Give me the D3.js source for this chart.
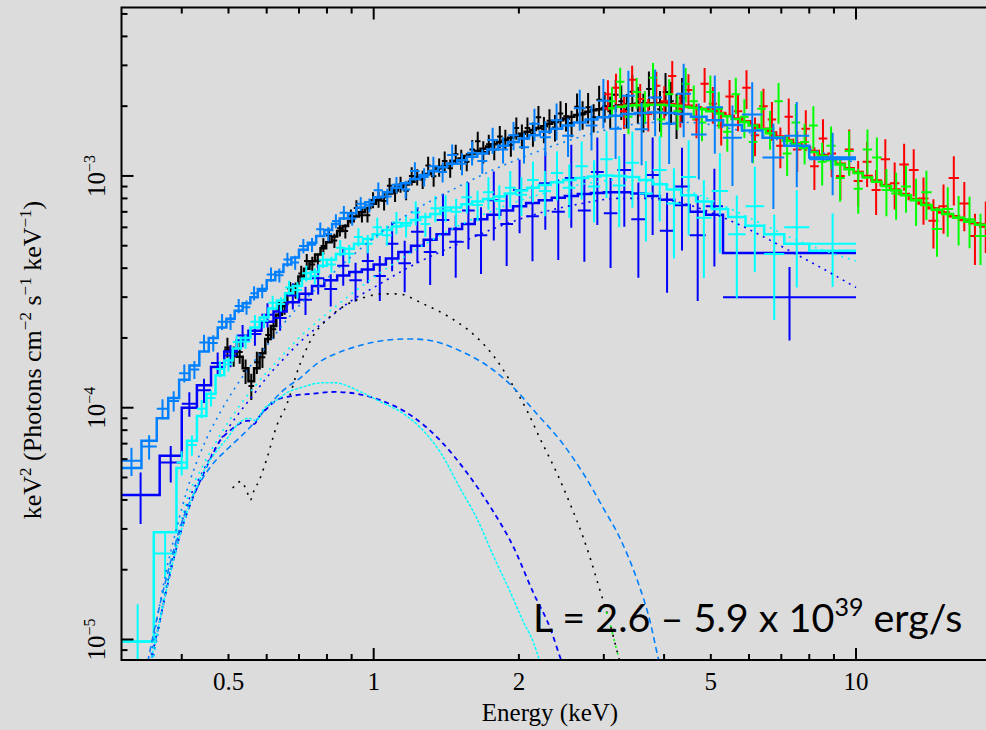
<!DOCTYPE html>
<html>
<head>
<meta charset="utf-8">
<script src="https://cdn.jsdelivr.net/npm/d3@7"></script>
<style>
html, body { margin: 0; padding: 0; background: #dcdcdc; }
svg { display: block; }
</style>
</head>
<body>
<svg id="chart" width="986" height="730"></svg>
<script>
// Unfolded spectra, E^2 f(E); every value array is in units of 1e-4 keV^2 ph cm^-2 s^-1 keV^-1.
// For each instrument: bin edges (keV), measured values, fractional 1-sigma errors, model per bin.

const blackEdges = [0.490,0.505,0.520,0.535,0.550,0.565,0.580,0.596,0.612,0.628,
  0.645,0.662,0.680,0.698,0.717,0.736,0.756,0.776,0.797,0.818,
  0.840,0.862,0.885,0.909,0.933,0.958,0.984,1.010,1.037,1.065,
  1.093,1.122,1.152,1.183,1.215,1.247,1.280,1.314,1.349,1.385,
  1.422,1.460,1.499,1.539,1.580,1.622,1.665,1.710,1.755,1.802,
  1.850,1.900,1.950,2.002,2.056,2.111,2.167,2.225,2.284,2.345,
  2.408,2.472,2.538,2.606,2.675,2.747,2.820,2.895,2.973,3.052,
  3.134,3.218,3.304,3.392,3.483,3.576,3.672,3.770,3.871,3.975,
  4.081,4.190,4.302,4.417];
const blackVals = [1.82,1.67,1.74,1.44,1.24,1.57,1.65,2.06,2.18,2.65,
  2.74,3.26,3.21,3.79,4.30,4.15,4.31,4.98,5.54,5.26,
  5.95,5.78,6.70,7.28,6.77,6.77,7.88,7.93,7.80,9.07,
  8.49,9.19,8.63,10.0,9.89,9.66,11.1,9.98,10.9,11.6,
  10.8,12.4,11.8,11.5,13.0,14.1,12.7,13.7,13.0,14.8,
  14.4,13.6,16.1,14.9,16.1,15.2,17.9,15.9,17.3,16.2,
  18.6,18.1,16.9,19.9,18.4,19.8,17.9,21.3,20.0,19.0,
  22.4,21.0,19.3,23.1,20.5,19.0,23.7,21.8,19.4,23.0,
  21.0,18.5,21.7];
const blackErr = [0.10,0.10,0.11,0.12,0.13,0.11,0.10,
  0.08,0.09,0.08,0.08,0.07,0.08,0.08,0.07,0.08,0.07,0.08,0.07,0.07,0.08,0.07,0.07,0.08,0.07,0.07,0.08,
  0.08,0.09,0.08,0.09,0.08,0.09,0.09,0.08,0.09,0.09,0.10,0.09,0.10,0.09,0.10,0.10,0.09,0.10,0.10,0.11,0.10,0.10,0.11,0.10,0.11,0.11,
  0.12,0.11,0.12,0.12,0.13,0.12,0.13,0.13,0.14,0.13,0.14,0.14,0.15,0.14,0.15,0.15,0.16,
  0.16,0.17,0.17,0.18,0.18,0.19,0.19,0.20,0.20,0.21,0.21,0.22,0.22];
const blackModel = [1.78,1.74,1.66,1.48,1.30,1.48,1.72,1.98,2.25,2.52,
  2.80,3.08,3.38,3.68,3.98,4.28,4.58,4.88,5.18,5.48,
  5.78,6.08,6.38,6.68,6.98,7.28,7.58,7.85,8.12,8.40,
  8.66,8.92,9.18,9.44,9.70,9.96,10.2,10.5,10.8,11.0,
  11.3,11.6,11.9,12.2,12.5,12.8,13.1,13.4,13.7,14.0,
  14.3,14.6,14.9,15.2,15.5,15.8,16.1,16.4,16.8,17.1,
  17.4,17.7,18.0,18.3,18.6,18.9,19.2,19.4,19.6,19.8,
  20.0,20.2,20.3,20.4,20.5,20.6,20.6,20.6,20.6,20.5,
  20.4,20.3,20.1];

const redEdges = [3.00,3.12,3.24,3.37,3.50,3.64,3.78,3.93,4.08,4.24,
  4.41,4.58,4.76,4.95,5.15,5.36,5.58,5.81,6.05,6.30,
  6.56,6.83,7.11,7.40,7.71,8.03,8.37,8.72,9.09,9.48,
  9.89,10.32,10.77,11.25,11.76,12.30,12.87,13.48,14.13,14.82,
  15.56,16.35,17.20,18.10,19.07,20.10];
const redVals = [22.5,24.0,19.0,26.0,21.5,18.5,24.5,21.0,27.0,19.5,
  23.5,17.5,25.0,20.5,16.5,22.0,19.0,24.0,15.0,20.0,
  17.5,13.5,18.0,13.0,16.0,11.0,14.5,12.5,10.0,13.0,
  9.5,11.5,8.7,11.8,9.3,11.2,10.6,8.0,6.4,7.4,
  9.8,7.6,5.5,6.2,5.0];
const redErr = [0.15,0.15,0.16,0.15,0.16,0.16,0.15,0.16,0.16,0.17,
  0.17,0.17,0.17,0.18,0.18,0.18,0.18,0.19,0.19,0.19,
  0.19,0.20,0.20,0.20,0.20,0.21,0.21,0.21,0.21,0.22,
  0.22,0.22,0.22,0.22,0.23,0.23,0.23,0.23,0.24,0.24,
  0.24,0.24,0.25,0.25,0.25];
const redModel = [19.6,19.9,20.1,20.3,20.4,20.5,20.5,20.5,20.4,20.3,
  20.1,19.8,19.5,19.1,18.7,18.2,17.7,17.2,16.6,16.0,
  15.4,14.8,14.3,13.8,13.3,12.8,12.3,11.8,11.3,10.8,
  10.4,10.0,9.55,9.15,8.75,8.35,7.95,7.60,7.25,6.95,
  6.70,6.45,6.25,6.05,5.85];

const greenEdges = [3.06,3.18,3.31,3.44,3.58,3.72,3.87,4.02,4.18,4.35,
  4.52,4.70,4.89,5.09,5.30,5.52,5.75,5.99,6.24,6.50,
  6.77,7.05,7.35,7.66,7.99,8.33,8.69,9.07,9.47,9.89,
  10.33,10.80,11.30,11.83,12.40,13.00,13.65,14.35,15.10,15.90,
  16.75,17.65,18.60,19.60,20.60];
const greenVals = [21.0,25.5,18.0,23.0,20.0,26.5,17.5,22.5,19.0,25.0,
  21.0,17.0,23.0,19.5,15.5,22.5,18.0,14.0,19.5,16.0,
  21.0,12.5,17.0,14.0,16.5,11.5,13.5,9.8,12.8,8.8,
  13.0,12.0,8.7,8.4,9.0,7.9,8.5,5.9,7.2,6.6,
  6.5,5.5,6.0,4.9];
const greenErr = [0.15,0.15,0.16,0.15,0.16,0.16,0.16,0.16,0.17,0.17,
  0.17,0.17,0.18,0.18,0.18,0.18,0.19,0.19,0.19,0.19,
  0.20,0.20,0.20,0.20,0.21,0.21,0.21,0.21,0.22,0.22,
  0.22,0.22,0.23,0.23,0.23,0.23,0.24,0.24,0.24,0.24,
  0.25,0.25,0.25,0.26];
const greenModel = [19.6,19.9,20.1,20.2,20.3,20.3,20.3,20.2,20.1,19.9,
  19.7,19.4,19.0,18.6,18.1,17.6,17.1,16.5,15.9,15.3,
  14.7,14.2,13.7,13.2,12.7,12.2,11.7,11.2,10.7,10.3,
  9.85,9.45,9.05,8.65,8.25,7.85,7.50,7.15,6.85,6.60,
  6.35,6.15,5.95,5.80];

const blueEdges = [0.300,0.360,0.400,0.430,0.460,0.490,0.520,0.550,0.585,0.620,
  0.660,0.700,0.745,0.790,0.840,0.890,0.945,1.000,1.060,1.125,
  1.195,1.270,1.350,1.435,1.525,1.620,1.720,1.830,1.945,2.070,
  2.200,2.340,2.490,2.650,2.820,3.000,3.200,3.420,3.660,3.920,
  4.200,4.520,4.880,5.300,10.000];
const blueVals = [0.42,0.58,1.04,1.19,1.56,1.68,2.05,2.08,2.52,2.44,
  3.05,2.92,3.62,3.25,4.10,3.55,4.30,3.70,5.10,4.20,
  5.75,4.70,6.45,5.20,7.10,5.55,7.85,6.20,8.70,6.70,
  9.30,7.00,9.80,7.10,10.4,6.90,10.6,6.50,10.1,5.80,
  9.00,5.55,7.40,3.00];
const blueErr = [0.25,0.18,0.12,0.12,0.11,0.11,0.11,0.11,0.12,0.12,
  0.13,0.14,0.15,0.16,0.18,0.19,0.20,0.22,0.24,0.25,
  0.27,0.28,0.30,0.30,0.32,0.32,0.33,0.34,0.35,0.36,
  0.37,0.38,0.39,0.40,0.41,0.42,0.43,0.44,0.45,0.46,
  0.47,0.48,0.45,0.35];
const blueModel = [0.42,0.62,1.00,1.25,1.50,1.75,1.95,2.15,2.35,2.60,
  2.85,3.10,3.35,3.55,3.72,3.85,3.95,4.15,4.40,4.70,
  5.00,5.30,5.60,5.90,6.20,6.50,6.80,7.10,7.40,7.65,
  7.85,8.05,8.20,8.35,8.45,8.50,8.50,8.40,8.20,7.90,
  7.50,7.00,6.80,4.65];

const cyanEdges = [0.300,0.350,0.390,0.410,0.430,0.450,0.470,0.490,0.510,0.530,
  0.555,0.580,0.605,0.630,0.655,0.680,0.710,0.740,0.770,0.800,
  0.835,0.870,0.910,0.950,0.995,1.040,1.090,1.140,1.195,1.250,
  1.310,1.375,1.445,1.520,1.600,1.685,1.775,1.870,1.970,2.080,
  2.200,2.330,2.470,2.620,2.780,2.950,3.130,3.330,3.550,3.790,
  4.050,4.340,4.660,5.020,5.430,5.900,6.450,7.100,8.000,10.000];
const cyanVals = [0.098,0.235,0.58,0.69,0.99,1.10,1.47,1.54,1.92,1.93,
  2.35,2.37,2.84,2.80,3.30,3.22,3.80,3.70,4.35,4.15,
  4.90,4.62,5.45,5.10,6.00,5.55,6.30,6.10,6.95,6.20,
  7.25,7.30,7.00,8.10,7.50,8.50,7.80,8.90,8.30,9.60,
  8.60,10.3,8.90,11.0,9.00,11.8,9.10,11.4,8.40,10.6,
  7.60,9.90,6.60,8.60,5.60,7.40,4.60,6.00,5.10];
const cyanErr = [0.45,0.22,0.12,0.10,0.09,0.08,0.08,0.07,0.07,0.07,
  0.07,0.07,0.07,0.07,0.07,0.08,0.08,0.08,0.08,0.08,
  0.08,0.09,0.09,0.09,0.10,0.10,0.11,0.11,0.12,0.12,
  0.13,0.13,0.14,0.15,0.15,0.16,0.17,0.18,0.19,0.20,
  0.22,0.24,0.26,0.28,0.30,0.32,0.34,0.36,0.38,0.40,
  0.42,0.44,0.45,0.46,0.47,0.48,0.48,0.45,0.35];
const cyanModel = [0.098,0.29,0.55,0.72,0.92,1.15,1.38,1.60,1.80,2.00,
  2.22,2.45,2.68,2.90,3.12,3.35,3.60,3.85,4.10,4.35,
  4.60,4.85,5.10,5.35,5.60,5.85,6.05,6.25,6.45,6.65,
  6.85,7.10,7.30,7.55,7.75,7.95,8.15,8.40,8.65,8.90,
  9.15,9.40,9.60,9.80,9.95,10.05,10.0,9.90,9.60,9.20,
  8.75,8.25,7.75,7.20,6.65,6.10,5.60,5.10,4.75];

const azureEdges = [0.300,0.330,0.355,0.375,0.395,0.415,0.435,0.455,0.475,0.495,
  0.515,0.535,0.555,0.575,0.600,0.625,0.650,0.675,0.700,0.730,
  0.760,0.790,0.820,0.850,0.885,0.920,0.960,1.000,1.045,1.090,
  1.140,1.190,1.245,1.300,1.360,1.420,1.490,1.560,1.640,1.720,
  1.810,1.900,2.000,2.100,2.210,2.330,2.460,2.600,2.750,2.910,
  3.080,3.270,3.480,3.710,3.960,4.240,4.550,4.900,5.300,5.800,
  6.400,7.100,8.000,10.000];
const azureVals = [0.59,0.68,0.99,1.07,1.41,1.46,1.91,1.90,2.35,2.35,
  2.75,2.71,3.12,3.19,3.76,3.73,4.36,4.23,4.99,5.05,
  5.89,5.62,6.39,6.94,6.56,7.59,7.47,8.67,8.16,9.17,
  8.74,10.5,9.90,11.0,10.4,12.3,11.3,12.6,11.6,14.3,
  13.0,15.0,13.3,16.8,14.7,17.4,14.9,19.6,16.5,21.1,
  16.0,22.2,15.9,21.8,16.8,22.6,15.1,19.8,14.6,18.4,
  12.0,14.9,11.8];
const azureErr = [0.14,0.12,0.10,0.10,0.09,0.09,0.08,0.08,0.08,0.08,0.07,0.07,0.07,
  0.07,0.07,0.07,0.07,0.07,0.07,0.07,0.07,0.07,0.07,0.07,0.07,0.07,0.07,
  0.08,0.08,0.08,0.09,0.09,0.09,0.10,0.10,0.11,0.11,0.12,0.12,0.13,0.13,0.14,
  0.15,0.16,0.17,0.18,0.19,0.20,0.22,0.24,
  0.26,0.28,0.30,0.32,0.33,0.35,0.36,0.37,0.38,0.38,0.40,0.40,0.30];
const azureModel = [0.55,0.72,0.90,1.10,1.32,1.52,1.75,2.00,2.22,2.42,
  2.62,2.82,3.00,3.25,3.55,3.85,4.15,4.45,4.80,5.15,
  5.50,5.85,6.20,6.55,6.90,7.30,7.70,8.10,8.50,8.90,
  9.30,9.70,10.1,10.5,10.9,11.3,11.7,12.1,12.5,13.0,
  13.5,14.0,14.5,15.0,15.5,16.0,16.5,17.0,17.5,17.9,
  18.2,18.5,18.7,18.8,18.7,18.5,18.0,17.4,16.6,15.7,
  14.6,13.5,12.0];

// Model components (keV, same units)
const blackSoftE = [0.51,0.53,0.545,0.555,0.565,0.58,0.60,0.63,0.66,0.70,
  0.75,0.80,0.87,0.95,1.05,1.12,1.27,1.44,1.64,1.77,
  1.92,2.08,2.21,2.40,2.56,2.72,2.81,2.94,3.08,3.21,3.30];
const blackSoftY = [0.45,0.48,0.44,0.40,0.44,0.49,0.60,0.84,1.03,1.50,
  2.05,2.40,2.75,2.98,3.10,3.10,2.80,2.45,2.00,1.68,
  1.30,0.97,0.74,0.52,0.38,0.275,0.225,0.165,0.12,0.086,0.07];
const greenSoftE = [3.00,3.08,3.15,3.21,3.30];
const greenSoftY = [0.14,0.12,0.10,0.086,0.07];
const azureSoftE = [0.34,0.36,0.38,0.40,0.43,0.46,0.50,0.53,0.565,0.60,
  0.65,0.706,0.766,0.84,0.94,1.07,1.19,1.31,1.51,1.75,
  1.95,2.18,2.44,2.72,2.99,3.25,3.52,3.74,3.89,4.0];
const azureSoftY = [0.08,0.14,0.22,0.32,0.45,0.56,0.67,0.75,0.86,1.00,
  1.19,1.35,1.56,1.72,1.86,1.96,1.98,1.95,1.76,1.48,
  1.22,0.94,0.72,0.52,0.37,0.27,0.18,0.12,0.083,0.066];
const cyanSoftE = [0.34,0.36,0.38,0.40,0.43,0.45,0.475,0.50,0.52,0.55,
  0.57,0.59,0.63,0.66,0.706,0.78,0.83,0.94,1.034,1.137,
  1.25,1.376,1.51,1.64,1.77,1.92,2.04,2.14,2.2,2.25];
const cyanSoftY = [0.07,0.12,0.20,0.30,0.46,0.56,0.66,0.75,0.84,0.90,
  0.88,0.98,1.08,1.16,1.22,1.28,1.28,1.17,1.06,0.96,
  0.82,0.64,0.45,0.33,0.23,0.16,0.12,0.098,0.083,0.072];
const blueSoftE = [0.34,0.36,0.38,0.40,0.42,0.44,0.46,0.48,0.505,
  0.53,0.55,0.565,0.58,0.60,0.63,0.67,0.75,0.83,0.94,
  1.03,1.21,1.376,1.565,1.75,1.95,2.14,2.33,2.44,2.5];
const blueSoftY = [0.07,0.12,0.20,0.30,0.40,0.50,0.61,0.72,0.80,
  0.86,0.88,0.85,0.92,0.99,1.08,1.12,1.15,1.17,1.14,
  1.08,0.91,0.72,0.52,0.37,0.25,0.16,0.11,0.083,0.073];
const hardE = [0.34,0.355,0.37,0.39,0.41,0.44,0.48,0.52,0.56,0.60,
  0.65,0.70,0.80,0.90,1.0,1.2,1.5,1.8,2.2,2.7,
  3.2,3.8,4.5,5.5,6.5,7.5,8.5,10];
const azureHardY = [0.07,0.12,0.19,0.30,0.44,0.66,0.95,1.25,1.55,1.85,
  2.3,2.75,3.6,4.5,5.4,7.0,9.0,10.8,12.8,14.8,
  16.2,17.0,17.0,16.0,14.8,13.6,12.6,11.4];
const blueHardY = [0.06,0.10,0.16,0.26,0.38,0.52,0.72,0.92,1.12,1.35,
  1.62,1.90,2.40,2.90,3.30,4.10,5.10,6.00,6.90,7.60,
  8.00,8.00,7.50,6.40,5.40,4.60,4.00,3.30];
const cyanHardY = [0.06,0.10,0.17,0.27,0.40,0.55,0.76,0.98,1.20,1.42,
  1.70,2.00,2.55,3.10,3.65,4.70,6.10,7.20,8.30,9.20,
  9.60,9.40,8.60,7.20,6.10,5.30,4.80,4.30];

const xTickLabels = ["0.5", "1", "2", "5", "10"];
const yTickExps = ["−5", "−4", "−3"];

const UNIT = 1e-4;
const COL = { black: "#000000", red: "#ff0000", green: "#00ff00", blue: "#0000ff", cyan: "#00ffff", azure: "#0080ff" };

const svg = d3.select("#chart");
const L = 121.5, R = 1001.2, T = 7.5, B = 660;
const x = d3.scaleLog().domain([0.3, 20]).range([L, R]);
const y = d3.scaleLog().domain([8.157e-6, 5.33e-3]).range([B, T]);

svg.append("rect").attr("width", 986).attr("height", 730).attr("fill", "#dcdcdc");
svg.append("defs").append("clipPath").attr("id", "plotArea")
  .append("rect").attr("x", L).attr("y", T).attr("width", R - L).attr("height", B - T);

const plot = svg.append("g").attr("clip-path", "url(#plotArea)");

function drawSet(edges, vals, errs, model, color) {
  const g = plot.append("g");
  let d = "";
  vals.forEach((v, i) => {
    const lo = edges[i], hi = edges[i + 1], c = Math.sqrt(lo * hi);
    d += `M${x(lo)},${y(v * UNIT)}H${x(hi)}`;
    d += `M${x(c)},${y(v * (1 - errs[i]) * UNIT)}V${y(v * (1 + errs[i]) * UNIT)}`;
  });
  g.append("path").attr("d", d).attr("fill", "none")
    .attr("stroke", color).attr("stroke-width", 2);
  const pts = [];
  model.forEach((m, i) => { pts.push([edges[i], m]); pts.push([edges[i + 1], m]); });
  g.append("path")
    .attr("d", d3.line().x(p => x(p[0])).y(p => y(p[1] * UNIT))(pts))
    .attr("fill", "none").attr("stroke", color).attr("stroke-width", 2.5);
}

drawSet(blackEdges, blackVals, blackErr, blackModel, COL.black);
drawSet(redEdges, redVals, redErr, redModel, COL.red);
drawSet(greenEdges, greenVals, greenErr, greenModel, COL.green);
drawSet(blueEdges, blueVals, blueErr, blueModel, COL.blue);
drawSet(cyanEdges, cyanVals, cyanErr, cyanModel, COL.cyan);
drawSet(azureEdges, azureVals, azureErr, azureModel, COL.azure);

function drawComp(es, vs, color, dash, width) {
  plot.append("path")
    .attr("d", d3.line().curve(d3.curveMonotoneX).x((e) => x(e)).y((e, i) => y(vs[i] * UNIT))(es))
    .attr("fill", "none").attr("stroke", color)
    .attr("stroke-width", width).attr("stroke-dasharray", dash);
}

drawComp(hardE, blueHardY, COL.blue, "2,5", 1.6);
drawComp(hardE, cyanHardY, COL.cyan, "2,5", 1.6);
drawComp(hardE, azureHardY, COL.azure, "2,5", 1.6);
drawComp(blackSoftE, blackSoftY, COL.black, "2,6", 1.6);
drawComp(greenSoftE, greenSoftY, COL.green, "2,5", 1.6);
drawComp(azureSoftE, azureSoftY, COL.azure, "6,4", 1.6);
drawComp(blueSoftE, blueSoftY, COL.blue, "5,4", 1.8);
drawComp(cyanSoftE, cyanSoftY, COL.cyan, "3,1.5", 1.5);

// Frame and ticks
const axis = svg.append("g").attr("stroke", "#000").attr("fill", "none");
axis.append("path").attr("d", `M${R},${T}H${L}V${B}H${R}`).attr("stroke-width", 2);

const xMinor = [0.4,0.5,0.6,0.7,0.8,0.9,2,3,4,5,6,7,8,9,20];
const xMajor = [1, 10];
xMajor.forEach(v => {
  axis.append("line").attr("x1", x(v)).attr("x2", x(v)).attr("y1", B).attr("y2", B - 12).attr("stroke-width", 2);
  axis.append("line").attr("x1", x(v)).attr("x2", x(v)).attr("y1", T).attr("y2", T + 12).attr("stroke-width", 2);
});
xMinor.forEach(v => {
  axis.append("line").attr("x1", x(v)).attr("x2", x(v)).attr("y1", B).attr("y2", B - 6).attr("stroke-width", 2);
  axis.append("line").attr("x1", x(v)).attr("x2", x(v)).attr("y1", T).attr("y2", T + 6).attr("stroke-width", 2);
});
const yMajor = [1e-5, 1e-4, 1e-3];
const yMinor = [9e-6, 2e-5,3e-5,4e-5,5e-5,6e-5,7e-5,8e-5,9e-5, 2e-4,3e-4,4e-4,5e-4,6e-4,7e-4,8e-4,9e-4, 2e-3,3e-3,4e-3,5e-3];
yMajor.forEach(v => axis.append("line").attr("x1", L).attr("x2", L + 12).attr("y1", y(v)).attr("y2", y(v)).attr("stroke-width", 2));
yMinor.forEach(v => axis.append("line").attr("x1", L).attr("x2", L + 6).attr("y1", y(v)).attr("y2", y(v)).attr("stroke-width", 2));

const serif = "'Liberation Serif', 'Times New Roman', serif";
const xTickVals = xTickLabels.map(Number);
svg.append("g").selectAll("text").data(xTickVals).join("text")
  .attr("x", d => x(d)).attr("y", 690)
  .attr("text-anchor", "middle").attr("font-family", serif).attr("font-size", 25)
  .text((d, i) => xTickLabels[i]);

yMajor.forEach((v, i) => {
  const t = svg.append("text")
    .attr("transform", `translate(105,${y(v)}) rotate(-90)`)
    .attr("text-anchor", "middle").attr("font-family", serif).attr("font-size", 25);
  t.append("tspan").text("10");
  t.append("tspan").attr("font-size", 16).attr("dy", -10).text(yTickExps[i]);
});

svg.append("text").attr("x", 550).attr("y", 721)
  .attr("text-anchor", "middle").attr("font-family", serif).attr("font-size", 25)
  .text("Energy (keV)");

const yTitle = svg.append("text")
  .attr("transform", "translate(41,360) rotate(-90)")
  .attr("text-anchor", "middle").attr("font-family", serif).attr("font-size", 26);
const titleParts = [["keV", 0], ["2", 1], [" (Photons cm", 0], ["−2", 1], [" s", 0], ["−1", 1], [" keV", 0], ["−1", 1], [")", 0]];
let raised = false;
titleParts.forEach(([s, sup]) => {
  const ts = yTitle.append("tspan").text(s);
  if (sup && !raised) { ts.attr("font-size", 17).attr("dy", -10); raised = true; }
  else if (!sup && raised) { ts.attr("dy", 10); raised = false; }
  else if (sup) ts.attr("font-size", 17);
});

const note = svg.append("text").attr("x", 533).attr("y", 632)
  .attr("font-family", "Lato, 'Open Sans', sans-serif").attr("font-size", 39.5).attr("fill", "#000");
note.append("tspan").text("L = 2.6 – 5.9 x 10");
note.append("tspan").attr("font-size", 25).attr("dy", -16).text("39");
note.append("tspan").attr("dy", 16).text(" erg/s");
</script>
</body>
</html>
